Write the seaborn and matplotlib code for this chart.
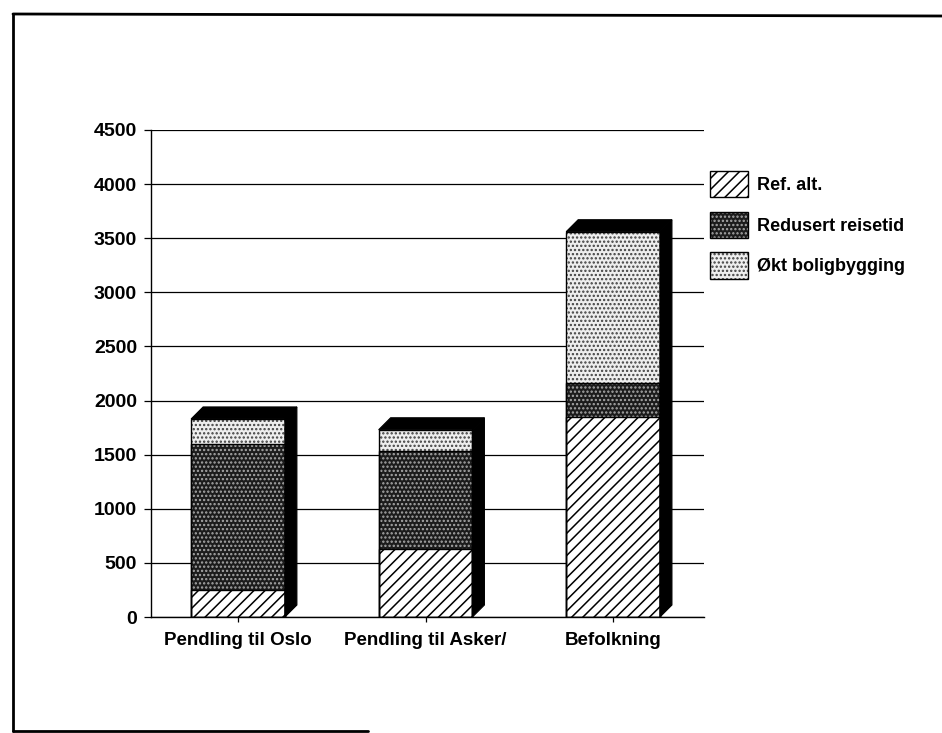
import matplotlib
matplotlib.use("Agg")
import matplotlib.pyplot as plt
import matplotlib.patches as mpatches
from matplotlib.lines import Line2D
import seaborn as sns
import numpy as np

categories = ["Pendling til Oslo", "Pendling til Asker/", "Befolkning"]
series_names = ["Ref. alt.", "Redusert reisetid", "Økt boligbygging"]
ref_alt = [250, 630, 1850]
redusert = [1350, 900, 310]
okt_bolig = [230, 200, 1400]
yticks = [0, 500, 1000, 1500, 2000, 2500, 3000, 3500, 4000, 4500]

sns.set_theme(style="white")
plt.rcParams['font.family'] = ['Liberation Sans', 'DejaVu Sans']
plt.rcParams['font.weight'] = 'bold'
plt.rcParams['hatch.linewidth'] = 1.1

# fill colour, hatch, hatch colour for each series
styles = {
    "Ref. alt.": ("white", "///", "black"),
    "Redusert reisetid": ("#1c1c1c", "....", "#a8a8a8"),
    "Økt boligbygging": ("#eeeeee", "....", "#404040"),
}

fig = plt.figure(figsize=(9.42, 7.33), dpi=100)
W, H = 942, 733
ax = fig.add_axes([151 / W, 1 - 617 / H, (704 - 151) / W, (617 - 130) / H])
ax.set_axisbelow(True)

level1 = np.array(ref_alt)
level2 = level1 + np.array(redusert)
level3 = level2 + np.array(okt_bolig)

# stacked look: draw the tallest first, the lower layers in front
for name, vals in zip(series_names[::-1], [level3, level2, level1]):
    fc, hatch, hc = styles[name]
    n0 = len(ax.patches)
    sns.barplot(x=categories, y=vals, ax=ax, width=0.5, errorbar=None,
                facecolor=fc, edgecolor=hc, hatch=hatch, linewidth=0, zorder=2)
    for p in ax.patches[n0:n0 + len(categories)]:
        ax.add_patch(mpatches.Rectangle(p.get_xy(), p.get_width(), p.get_height(),
                                        fill=False, edgecolor="black", lw=1.0, zorder=3))

ax.set_xlim(-0.464, 2.485)
ax.set_ylim(0, 4500)
ax.set_yticks(yticks)

# 3-D depth: top and side faces, offset 12 px right and up
inv = ax.transData.inverted()
orig = ax.transData.transform((0, 0))
dx, dy = inv.transform(orig + np.array([12, 12])) - inv.transform(orig)
for i, top in enumerate(level3):
    x0 = i - 0.25
    x1 = i + 0.25
    ax.add_patch(mpatches.Polygon([(x0, top), (x0 + dx, top + dy), (x1 + dx, top + dy), (x1, top)],
                                  closed=True, facecolor="black", edgecolor="black", lw=0.8, zorder=3))
    ax.add_patch(mpatches.Polygon([(x1, 0), (x1, top), (x1 + dx, top + dy), (x1 + dx, dy)],
                                  closed=True, facecolor="black", edgecolor="black", lw=0.8, zorder=3))

ax.yaxis.grid(True, color="black", lw=0.9)
ax.xaxis.grid(False)
for s in ["top", "right"]:
    ax.spines[s].set_visible(False)
for s in ["left", "bottom"]:
    ax.spines[s].set_color("black")
    ax.spines[s].set_linewidth(1.0)
    ax.spines[s].set_zorder(1)

ax.tick_params(axis="y", which="major", direction="out", length=5, width=0.9, color="black",
               labelsize=14, pad=5, left=True)
ax.tick_params(axis="x", which="major", direction="out", length=3.6, width=0.9, color="black",
               labelsize=13.5, pad=7, bottom=True)
for t in ax.get_xticklabels() + ax.get_yticklabels():
    t.set_fontweight("bold")
    t.set_color("black")
ax.set_xlabel("")
ax.set_ylabel("")

handles = []
for name in series_names:
    fc, hatch, hc = styles[name]
    fill = mpatches.Patch(facecolor=fc, edgecolor=hc, hatch=hatch, lw=0)
    edge = mpatches.Patch(facecolor="none", edgecolor="black", lw=1.0)
    handles.append((fill, edge))
ax.legend(handles, series_names, loc="upper left", bbox_to_anchor=(710 / W, 1 - 171 / H),
          bbox_transform=fig.transFigure, frameon=False, borderaxespad=0, borderpad=0,
          handlelength=2.1, handleheight=1.88, labelspacing=0.78, labelcolor="black",
          handletextpad=0.5, prop={"weight": "bold", "size": 13})

# scanned page frame
fig.add_artist(Line2D([13 / W, 1.0], [1 - 14 / H, 1 - 16 / H], transform=fig.transFigure,
                      color="black", lw=2.0))
fig.add_artist(Line2D([13 / W, 13 / W], [1 - 14 / H, 1 - 731 / H], transform=fig.transFigure,
                      color="black", lw=2.0))
fig.add_artist(Line2D([13 / W, 368 / W], [1 - 731 / H, 1 - 731 / H], transform=fig.transFigure,
                      color="black", lw=2.0))

fig.savefig("out.png", dpi=100)
